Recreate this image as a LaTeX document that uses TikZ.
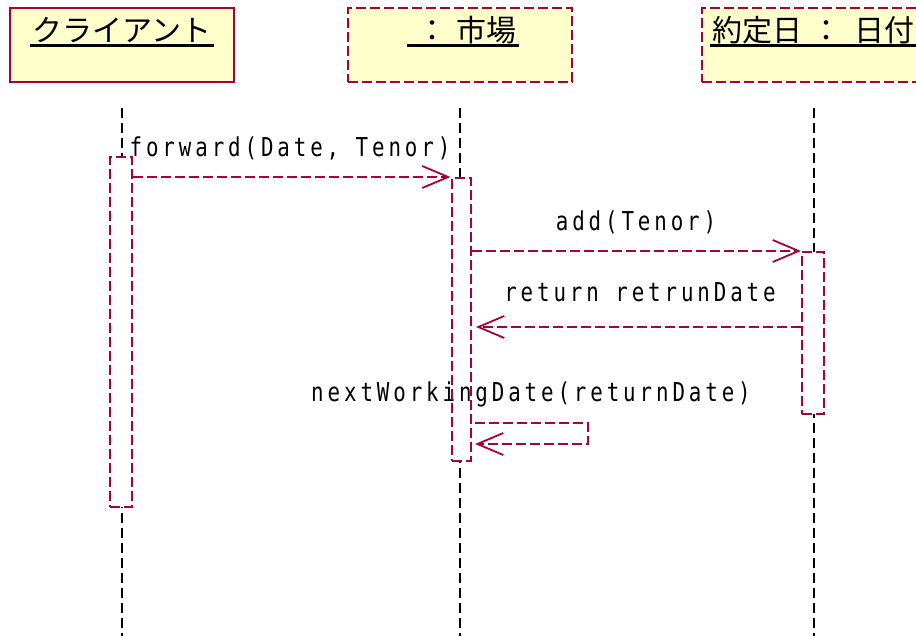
\documentclass[tikz,border=0pt]{standalone}
\usepackage{fontspec}
\usetikzlibrary{arrows.meta}
\newfontfamily\jpfont{Noto Sans CJK JP}
\newfontfamily\msgfont[FakeStretch=0.8,LetterSpace=15]{DejaVu Sans Mono}
\definecolor{umlred}{RGB}{168,0,56}
\definecolor{umlfill}{RGB}{255,255,204}

\begin{document}
\begin{tikzpicture}[x=1pt,y=-1pt,
	objbox/.style={draw=umlred,fill=umlfill,line width=2pt,minimum width=224pt,minimum height=74pt,inner sep=0pt},
	objname/.style={inner sep=0pt,font=\jpfont\fontsize{30}{32}\selectfont},
	uline/.style={line width=3pt},
	redash/.style={dash pattern=on 10pt off 4pt},
	lifeline/.style={line width=2.2pt,dash pattern=on 10pt off 5pt},
	actbox/.style={draw=umlred,fill=white,line width=2pt,redash,minimum width=22pt,inner sep=0pt},
	msg/.style={draw=umlred,line width=1.8pt,redash,-{Straight Barb[length=26pt,width=22pt]}},
	msglabel/.style={inner sep=0pt,font=\msgfont\fontsize{26}{30}\selectfont}]
	
	\clip (0,0) rectangle (916,636);
	
	% objects
	\node[objbox] (cli) at (122,45) {};
	\node[objbox,redash] (mkt) at (460,45) {};
	\node[objbox,redash] (dte) at (814,45) {};
	
	\node[objname,anchor=base] (tcli) at (122,42) {クライアント};
	\node[objname,anchor=base] (tmkt) at (463,42) {\hspace{8pt}：\hspace{10pt}市場};
	\node[objname,anchor=base west] (tdte) at (712,42) {約定日\hspace{9pt}：\hspace{13pt}日付};
	\draw[uline] ([xshift=-2pt,yshift=-4pt]tcli.base west) -- ([xshift=2pt,yshift=-4pt]tcli.base east);
	\draw[uline] ([xshift=-2pt,yshift=-4pt]tmkt.base west) -- ([xshift=2pt,yshift=-4pt]tmkt.base east);
	\draw[uline] ([xshift=-2pt,yshift=-4pt]tdte.base west) -- ([xshift=20pt,yshift=-4pt]tdte.base east);
	
	% lifelines
	\coordinate (ltop) at (0,108);
	\coordinate (lbot) at (0,640);
	\draw[lifeline] (cli.south |- ltop) -- (cli.south |- lbot);
	\draw[lifeline] (mkt.south |- ltop) -- (mkt.south |- lbot);
	\draw[lifeline] (dte.south |- ltop) -- (dte.south |- lbot);
	
	% activations
	\node[actbox,minimum height=350pt] (acli) at (121,332) {};
	\node[actbox,minimum width=19pt,minimum height=283pt] (amkt) at (461,319.5) {};
	\node[actbox,minimum height=162pt] (adte) at (813,333) {};
	
	% messages
	\coordinate (rtn) at (476,327);
	\coordinate (sfa) at (475,423);
	\coordinate (sfb) at (588,444);
	\coordinate (sfc) at (475,444);
	\draw[msg] (acli.east |- amkt.north) -- (amkt.north west);
	\draw[msg] (amkt.east |- adte.north) -- (adte.north west);
	\draw[msg] (adte.west |- rtn) -- (rtn);
	\draw[msg] (sfa) -| (sfb) -- (sfc);
	
	\node[msglabel,anchor=base] (lfwd) at (290,157) {forward(Date, Tenor)};
	\node[msglabel,anchor=base] (ladd) at (636,231) {add(Tenor)};
	\node[msglabel,anchor=base] (lret) at (640,302) {return retrunDate};
	\node[msglabel,anchor=base] (lnwd) at (531,401) {nextWorkingDate(returnDate)};
\end{tikzpicture}
\end{document}
